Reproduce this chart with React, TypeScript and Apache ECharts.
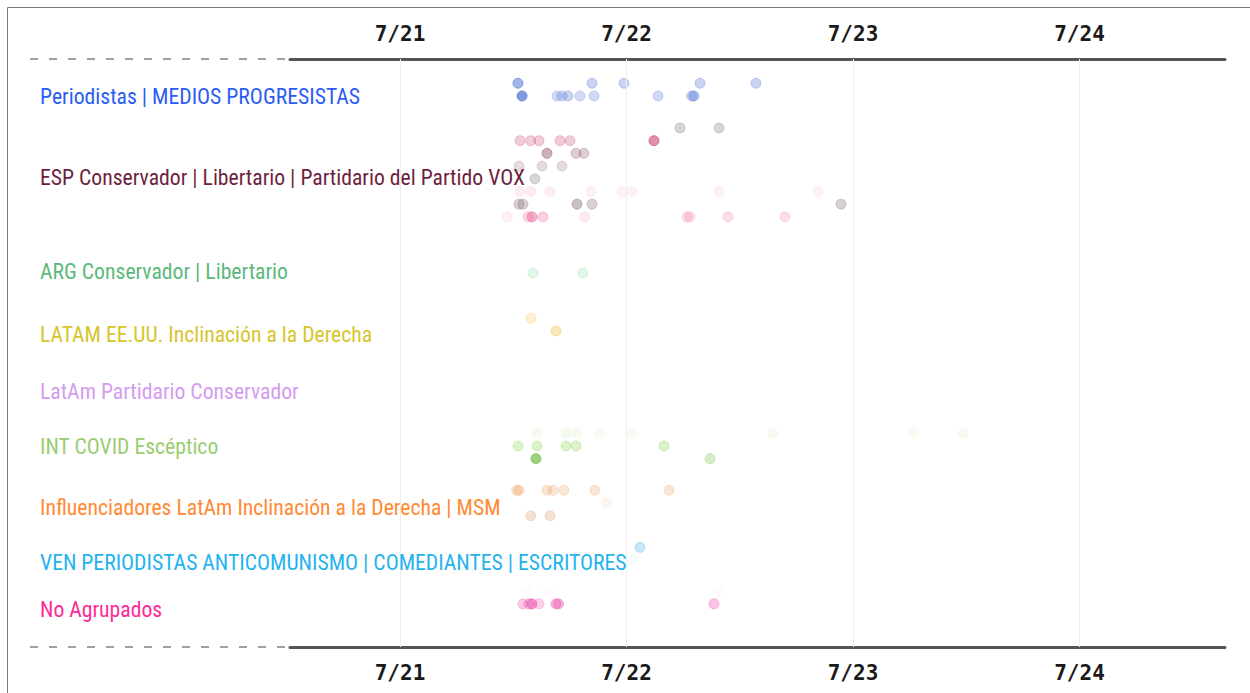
import React, { useEffect, useRef } from 'react';
import * as echarts from 'echarts';

// Tick labels (day 0 = 7/21 00:00)
const tickLabels = ['7/21', '7/22', '7/23', '7/24'];
const tickDays = [0, 1, 2, 3];

const groupNames = [
  'Periodistas | MEDIOS PROGRESISTAS',
  'ESP Conservador | Libertario | Partidario del Partido VOX',
  'ARG Conservador | Libertario',
  'LATAM EE.UU. Inclinación a la Derecha',
  'LatAm Partidario Conservador',
  'INT COVID Escéptico',
  'Influenciadores LatAm Inclinación a la Derecha | MSM',
  'VEN PERIODISTAS ANTICOMUNISMO | COMEDIANTES | ESCRITORES',
  'No Agrupados',
];

// Each point: [hours since 7/21 00:00, lane within group, intensity 0-10]
const periodistas = [
  [12.5, 0, 6], [20.34, 0, 3.5], [23.73, 0, 3.5], [31.79, 0, 3.5], [37.72, 0, 3.5],
  [12.93, 1, 8], [16.64, 1, 3], [17.17, 1, 3], [17.8, 1, 3.5], [19.07, 1, 3], [20.56, 1, 3],
  [27.34, 1, 3], [30.91, 1, 3.5], [31.15, 1, 4.5],
];
const espVox = [
  [29.67, 0, 4], [33.8, 0, 4],
  [12.72, 1, 3.5], [13.85, 1, 3.5], [14.73, 1, 3.5], [16.95, 1, 3.5], [18.01, 1, 3.5], [26.91, 1, 7.5],
  [15.58, 2, 5.5], [18.65, 2, 3.5], [19.49, 2, 3.5],
  [12.61, 3, 3], [15.05, 3, 3], [17.17, 3, 3],
  [14.3, 4, 4],
  [12.72, 5, 1.5], [13.85, 5, 1.5], [15.89, 5, 1.5], [20.24, 5, 1.2], [23.52, 5, 1.2], [24.58, 5, 1.2], [33.8, 5, 1.2], [44.29, 5, 1.2],
  [12.61, 6, 4], [13.03, 6, 4], [18.76, 6, 5.5], [20.34, 6, 4], [46.73, 6, 4],
  [11.34, 7, 1.2], [13.56, 7, 3], [13.99, 7, 6], [15.15, 7, 3.5], [19.6, 7, 1.5], [30.41, 7, 2.5], [30.73, 7, 2.5], [34.75, 7, 2.5], [40.79, 7, 2.5],
];
const argLib = [[14.09, 0, 2.5], [19.39, 0, 2.5]];
const latamUsa = [[13.88, 0, 3], [16.53, 1, 4.5]];
const latamPartidario: number[][] = [];
const covid = [
  [14.52, 0, 1], [17.59, 0, 1], [18.76, 0, 1], [21.09, 0, 0.8], [24.58, 0, 0.8], [39.52, 0, 0.8], [54.46, 0, 0.8], [59.66, 0, 0.8],
  [12.5, 1, 3.5], [14.52, 1, 3.5], [17.59, 1, 3.5], [18.65, 1, 3.5], [27.97, 1, 3.5],
  [14.41, 2, 8.5], [32.85, 2, 3.5],
];
const influencers = [
  [12.37, 0, 3.5], [12.61, 0, 3.5], [15.58, 0, 3], [16.21, 0, 3], [17.38, 0, 3], [20.66, 0, 3], [28.5, 0, 3],
  [21.93, 1, 1.2],
  [13.85, 2, 3.5], [15.89, 2, 3.5],
];
const venPeriodistas = [[25.43, 0, 4], [24.58, 1, 0.6]];
const noAgrupados = [
  [13.4, 0, 0.4], [15.68, 0, 0.4], [33.7, 0, 0.4],
  [13.03, 1, 4], [13.67, 1, 5], [13.99, 1, 7], [14.73, 1, 3.5], [16.53, 1, 5.5], [16.79, 1, 5.5], [33.27, 1, 4.5],
];

const groupData = [periodistas, espVox, argLib, latamUsa, latamPartidario, covid, influencers, venPeriodistas, noAgrupados];

// ---- layout & styles ----
const labelColors = ['#2b5cf3', '#6e1f3f', '#5cb97c', '#d8c52c', '#d49cf0', '#9bcd70', '#ff8a33', '#1fb3ef', '#ff2a97'];
const laneColors: number[][][] = [
  [[60, 100, 210], [60, 100, 210]],
  [[130, 125, 128], [205, 70, 110], [140, 75, 100], [150, 110, 125], [130, 125, 128], [240, 110, 160], [135, 110, 122], [240, 90, 150]],
  [[90, 215, 135]],
  [[245, 190, 60], [245, 190, 60]],
  [[200, 140, 240]],
  [[130, 210, 70], [130, 210, 70], [110, 185, 60]],
  [[235, 150, 80], [235, 150, 80], [220, 150, 100]],
  [[80, 180, 240], [80, 180, 240]],
  [[240, 90, 180], [240, 90, 180]],
];
const groupBase = [1.91, 5.43, 16.85, 20.42, 26.2, 29.47, 33.96, 38.45, 41.9];
const labelPos = [2.99, 9.37, 16.77, 21.73, 26.22, 30.55, 35.28, 39.61, 43.31];
const GRID_LEFT = 290;
const GRID_RIGHT = 25;
const GRID_TOP = 59;
const GRID_BOTTOM = 46;
const PX_PER_DAY = 226.5;
const DAY0_PX = 400;
const xMin = (GRID_LEFT - DAY0_PX) / PX_PER_DAY;
const xMax = (1250 - GRID_RIGHT - DAY0_PX) / PX_PER_DAY;
const yMax = (693 - GRID_TOP - GRID_BOTTOM) / 12.7;

const tickFormatter = (v: number) => {
  const d = Math.round(v);
  return Math.abs(v - d) < 1e-6 && d >= 0 && d < tickLabels.length ? tickLabels[d] : '';
};

const axisLabelStyle = {
  formatter: tickFormatter,
  fontFamily: "'DejaVu Sans Mono', monospace",
  fontWeight: 'bold' as const,
  fontSize: 21,
  color: '#1a1a1a',
  margin: 15,
  showMinLabel: false,
  showMaxLabel: false,
};

const LABEL_FONT = "'Roboto Condensed', 'Liberation Sans Narrow', 'DejaVu Sans Condensed', Roboto, sans-serif";

export default function App() {
  const ref = useRef<HTMLDivElement>(null);
  useEffect(() => {
    if (!ref.current) return;
    const chart = echarts.init(ref.current, undefined, { renderer: 'svg' });
    const series: any[] = groupData.map((pts, gi) => ({
      type: 'scatter',
      name: groupNames[gi],
      xAxisIndex: 0,
      yAxisIndex: 0,
      symbolSize: 10,
      data: pts.map((p) => {
        const c = laneColors[gi][p[1]] || laneColors[gi][0];
        const a = p[2] / 10;
        return {
          value: [p[0] / 24, groupBase[gi] + p[1]],
          itemStyle: {
            color: `rgba(${c[0]},${c[1]},${c[2]},${a})`,
            borderColor: `rgba(${c[0]},${c[1]},${c[2]},${Math.min(1, a * 1.3)})`,
            borderWidth: 0.8,
          },
        };
      }),
      silent: true,
    }));
    series.push({
      type: 'scatter',
      data: [],
      silent: true,
      markLine: {
        silent: true,
        symbol: 'none',
        label: { show: false },
        lineStyle: { color: '#eeeeee', width: 1, type: 'solid' },
        data: tickDays.map((d) => ({ xAxis: d })),
      },
      z: 0,
    });

    const option: any = {
      animation: false,
      backgroundColor: '#ffffff',
      grid: { left: GRID_LEFT, right: GRID_RIGHT, top: GRID_TOP, bottom: GRID_BOTTOM },
      xAxis: [
        {
          type: 'value', position: 'top', min: xMin, max: xMax,
          axisLine: { show: true, lineStyle: { color: '#555555', width: 3 } },
          axisTick: { show: false }, splitLine: { show: false },
          axisLabel: axisLabelStyle,
        },
        {
          type: 'value', position: 'bottom', min: xMin, max: xMax,
          axisLine: { show: true, lineStyle: { color: '#555555', width: 3 } },
          axisTick: { show: false }, splitLine: { show: false },
          axisLabel: axisLabelStyle,
        },
      ],
      yAxis: { type: 'value', inverse: true, min: 0, max: yMax, show: false },
      series,
    };
    chart.setOption(option);

    const graphics: any[] = [
      { type: 'line', shape: { x1: 7.5, y1: 7.5, x2: 1250, y2: 7.5 }, style: { stroke: '#7a7a7a', lineWidth: 1 } },
      { type: 'line', shape: { x1: 7.5, y1: 7.5, x2: 7.5, y2: 693 }, style: { stroke: '#7a7a7a', lineWidth: 1 } },
      { type: 'line', shape: { x1: 30, y1: GRID_TOP, x2: GRID_LEFT, y2: GRID_TOP }, style: { stroke: '#a0a0a0', lineWidth: 2, lineDash: [8, 11] } },
      { type: 'line', shape: { x1: 30, y1: 693 - GRID_BOTTOM, x2: GRID_LEFT, y2: 693 - GRID_BOTTOM }, style: { stroke: '#a0a0a0', lineWidth: 2, lineDash: [8, 11] } },
    ];
    groupNames.forEach((name, gi) => {
      const py = chart.convertToPixel({ yAxisIndex: 0 } as any, labelPos[gi]) as number;
      graphics.push({
        type: 'text',
        x: 40,
        y: py,
        z: 10,
        style: {
          text: name,
          fill: labelColors[gi],
          font: `21.7px ${LABEL_FONT}`,
          verticalAlign: 'middle',
          align: 'left',
        },
      });
    });
    chart.setOption({ graphic: graphics });

    return () => chart.dispose();
  }, []);
  return <div ref={ref} style={{ position: 'absolute', left: 0, top: 0, width: 1250, height: 693 }} />;
}
